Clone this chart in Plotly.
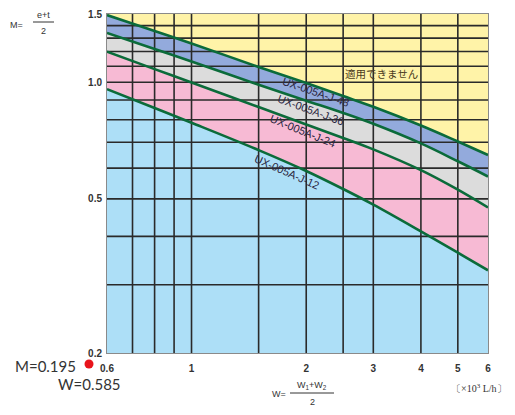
import math
import plotly.graph_objects as go

# ---- data ----
W_VALUES = [0.6, 0.8, 1.0, 1.5, 2.0, 2.5, 3.0, 4.0, 5.0, 6.0]
J12 = [0.960, 0.858, 0.786, 0.668, 0.590, 0.530, 0.483, 0.412, 0.363, 0.327]
J24 = [1.199, 1.081, 0.998, 0.863, 0.778, 0.718, 0.671, 0.593, 0.528, 0.475]
J36 = [1.340, 1.218, 1.131, 0.985, 0.896, 0.833, 0.781, 0.695, 0.625, 0.571]
J48 = [1.491, 1.356, 1.259, 1.095, 0.995, 0.921, 0.864, 0.773, 0.703, 0.649]
SERIES_NAMES = ["UX-005A-J-12", "UX-005A-J-24", "UX-005A-J-36", "UX-005A-J-48"]

X_MIN, X_MAX = 0.6, 6.0
Y_MIN, Y_MAX = 0.2, 1.5
X_GRID = [0.7, 0.8, 0.9, 1.0, 1.5, 2.0, 2.5, 3.0, 4.0, 5.0]
Y_GRID = [0.3, 0.4, 0.5, 0.6, 0.7, 0.8, 0.9, 1.0, 1.1, 1.2, 1.3, 1.4]
X_TICKS = [0.6, 1, 2, 3, 4, 5, 6]
X_TICKTEXT = ["0.6", "1", "2", "3", "4", "5", "6"]
Y_TICKS = [0.2, 0.5, 1.0, 1.5]
Y_TICKTEXT = ["0.2", "0.5", "1.0", "1.5"]

# ---- layout geometry (screen pixels; page body has an 8px margin) ----
OFF = 8
FIG_W, FIG_H = 507, 407
PL, PR, PT, PB = 107, 488, 14, 353          # plot area in screen pixels
L, T = PL - OFF, PT - OFF
R = FIG_W - (PR - OFF)
B = FIG_H - (PB - OFF)
PW, PH = PR - PL, PB - PT


def px(x):
    return (x - PL) / PW


def py(y):
    return (PB - y) / PH


C_LIGHTBLUE = "#ADDFF7"
C_PINK = "#F7BAD4"
C_GRAY = "#DCDCDC"
C_BLUE = "#93AADC"
C_YELLOW = "#FFF3A8"
C_CURVE = "#0B6B3A"
C_GRID = "#2A2A2A"

fig = go.Figure()

# filled bands
fig.add_trace(go.Scatter(x=W_VALUES, y=J12, mode="lines", line=dict(width=0, shape="spline"),
                         showlegend=False, hoverinfo="skip"))
for ys, col in [(J24, C_PINK), (J36, C_GRAY), (J48, C_BLUE), ([Y_MAX] * len(W_VALUES), C_YELLOW)]:
    fig.add_trace(go.Scatter(x=W_VALUES, y=ys, mode="lines", line=dict(width=0, shape="spline"),
                             fill="tonexty", fillcolor=col, showlegend=False, hoverinfo="skip"))

# grid lines drawn above fills
gx, gy = [], []
for g in X_GRID:
    gx += [g, g, None]
    gy += [Y_MIN, Y_MAX, None]
for g in Y_GRID:
    gx += [X_MIN, X_MAX, None]
    gy += [g, g, None]
fig.add_trace(go.Scatter(x=gx, y=gy, mode="lines", line=dict(color=C_GRID, width=1.6),
                         showlegend=False, hoverinfo="skip"))

# curves
for name, ys in zip(SERIES_NAMES, [J12, J24, J36, J48]):
    fig.add_trace(go.Scatter(x=W_VALUES, y=ys, mode="lines", name=name,
                             line=dict(color=C_CURVE, width=2.6, shape="spline"), showlegend=False))


def note(text, x, y, font, angle=0):
    return dict(text=text, x=px(x), y=py(y), xref="paper", yref="paper", showarrow=False,
                xanchor="center", yanchor="middle", textangle=angle, font=font)


ann = []
label_font = dict(family="Liberation Sans, Arial", size=11, color="#2A2540")
for text, (x, y), ang in [
    ("UX-005A-J-48", (316, 92), 19),
    ("UX-005A-J-36", (311, 110), 20),
    ("UX-005A-J-24", (303, 131), 22),
    ("UX-005A-J-12", (287, 172), 24),
]:
    ann.append(note(text, x, y, label_font, ang))

ann.append(note("適用できません", 381, 73, dict(family="Noto Sans CJK JP", size=10.5, color="#4A3B20")))

formula_font = dict(family="Liberation Sans, Arial", size=9, color="#333333")
ann += [
    note("M=", 16, 25, formula_font),
    note("e+t", 43, 15, formula_font),
    note("2", 43, 31, formula_font),
    note("W=", 279, 394, formula_font),
    note("W<sub>1</sub>+W<sub>2</sub>", 312, 385, formula_font),
    note("2", 312, 402, formula_font),
    note("〔×10<sup>3</sup> L/h〕", 479, 388,
         dict(family="Liberation Serif, DejaVu Serif", size=10, color="#333333")),
    note("M=0.195", 46, 366, dict(family="Lato, Liberation Sans", size=15, color="#333333")),
    note("W=0.585", 89, 384, dict(family="Lato, Liberation Sans", size=15, color="#333333")),
]

shapes = [
    dict(type="line", xref="paper", yref="paper", x0=px(33), x1=px(54), y0=py(22), y1=py(22),
         line=dict(color="#333333", width=1)),
    dict(type="line", xref="paper", yref="paper", x0=px(290), x1=px(334), y0=py(393), y1=py(393),
         line=dict(color="#333333", width=1)),
    # red marker dot next to M / W values
    dict(type="circle", xref="paper", yref="paper", xsizemode="pixel", ysizemode="pixel",
         xanchor=px(89), yanchor=py(364), x0=-4.5, x1=4.5, y0=-4.5, y1=4.5,
         fillcolor="#E8141B", line=dict(width=0)),
]

tick_font = dict(family="Liberation Sans, Arial", size=10, color="#333333")
fig.update_layout(
    width=FIG_W, height=FIG_H,
    autosize=False,
    margin=dict(l=L, r=R, t=T, b=B, pad=0, autoexpand=False),
    paper_bgcolor="white",
    plot_bgcolor=C_LIGHTBLUE,
    annotations=ann,
    shapes=shapes,
    xaxis=dict(type="log", range=[math.log10(X_MIN), math.log10(X_MAX)], showgrid=False, zeroline=False,
               automargin=False,
               tickvals=X_TICKS, ticktext=["<b>%s</b>" % t for t in X_TICKTEXT], tickfont=tick_font,
               ticks="outside", ticklen=6, tickcolor="rgba(0,0,0,0)",
               showline=True, linecolor="#8A8A8A", linewidth=1, mirror=True),
    yaxis=dict(type="log", range=[math.log10(Y_MIN), math.log10(Y_MAX)], showgrid=False, zeroline=False,
               automargin=False,
               tickvals=Y_TICKS, ticktext=["<b>%s</b>" % t for t in Y_TICKTEXT], tickfont=tick_font,
               ticks="outside", ticklen=2, tickcolor="rgba(0,0,0,0)",
               showline=True, linecolor="#8A8A8A", linewidth=1, mirror=True),
)

fig.write_html("out.html")
